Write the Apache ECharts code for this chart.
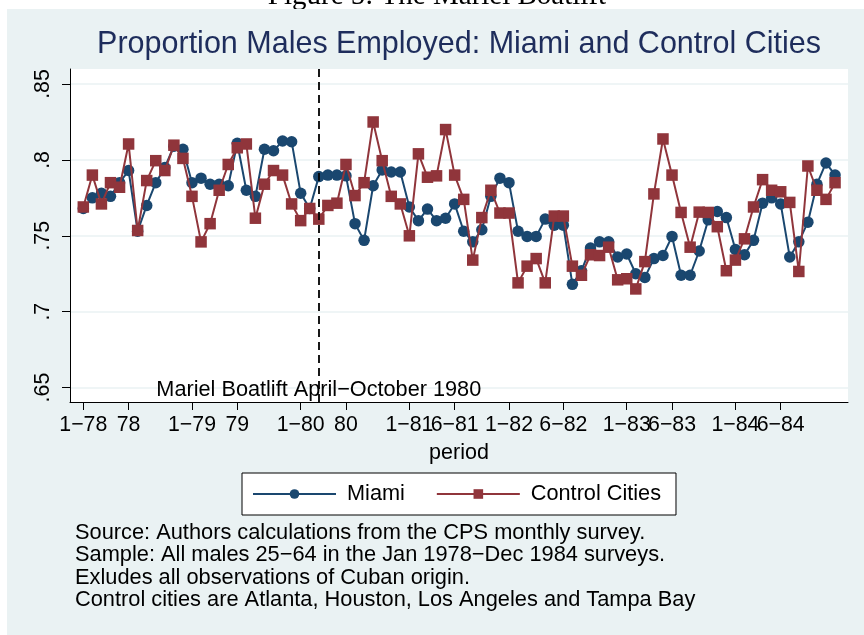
<!DOCTYPE html>
<html><head><meta charset="utf-8">
<script src="https://cdn.jsdelivr.net/npm/echarts@6/dist/echarts.min.js"></script>
<style>html,body{margin:0;padding:0;background:#fff}#c{width:864px;height:635px}</style>
</head><body><div id="c"></div>
<script>
// Monthly observations Jan 1978 - Dec 1984 (index 0..83)
const miami = [
  0.768,0.775,0.778,0.776,0.785,0.793,0.753,0.770,0.785,0.795,0.809,0.807,
  0.785,0.788,0.784,0.784,0.783,0.811,0.780,0.776,0.807,0.806,0.8125,0.812,
  0.778,0.768,0.789,0.790,0.790,0.7895,0.758,0.747,0.783,0.7934,0.792,0.792,
  0.769,0.760,0.7676,0.760,0.7616,0.771,0.753,0.746,0.754,0.776,0.788,0.785,
  0.753,0.7496,0.7496,0.761,0.757,0.757,0.718,0.727,0.742,0.746,0.746,0.736,
  0.738,0.725,0.7226,0.735,0.737,0.7496,0.724,0.724,0.740,0.7605,0.766,0.762,
  0.741,0.7375,0.747,0.7715,0.775,0.771,0.736,0.746,0.759,0.784,0.798,0.790
];
const control = [
  0.769,0.790,0.771,0.785,0.782,0.8105,0.7535,0.7864,0.7995,0.793,0.8097,0.801,
  0.776,0.746,0.758,0.780,0.797,0.808,0.8105,0.7616,0.784,0.793,0.790,0.771,
  0.760,0.768,0.761,0.770,0.7715,0.797,0.7765,0.785,0.825,0.7995,0.776,0.771,
  0.750,0.804,0.7886,0.7895,0.820,0.790,0.774,0.734,0.762,0.780,0.765,0.765,
  0.719,0.730,0.735,0.719,0.763,0.763,0.730,0.724,0.7375,0.737,0.7425,0.721,
  0.7217,0.715,0.733,0.7776,0.8138,0.790,0.7654,0.7425,0.7656,0.7654,0.756,0.727,
  0.734,0.748,0.769,0.787,0.780,0.779,0.772,0.7265,0.796,0.780,0.774,0.785
];
const tickPositions = [0,5,12,17,24,29,36,41,47,53,60,65,72,77];
const tickLabels = ['1\u221278','78','1\u221279','79','1\u221280','80','1\u221281','6\u221281','1\u221282','6\u221282','1\u221283','6\u221283','1\u221284','6\u221284'];
const yTicks = [0.65,0.7,0.75,0.8,0.85];
const yTickLabels = ['.65','.7','.75','.8','.85'];
const boatliftPeriod = 26;
const annotText = 'Mariel Boatlift April\u2212October 1980';
const titleText = 'Proportion Males Employed: Miami and Control Cities';
const captionText = 'Figure 5: The Mariel Boatlift';
const notes = [
  'Source: Authors calculations from the CPS monthly survey.',
  'Sample: All males 25\u221264 in the Jan 1978\u2212Dec 1984 surveys.',
  'Exludes all observations of Cuban origin.',
  'Control cities are Atlanta, Houston, Los Angeles and Tampa Bay'
];

const FONT = '"Liberation Sans", Arial, Helvetica, sans-serif';
const BLUE = '#1a476f', RED = '#90353b', BG = '#eaf2f3';
const X_MIN = -1.47, X_MAX = 84.43;
const chart = echarts.init(document.getElementById('c'), null, {renderer:'canvas'});
const toPairs = arr => arr.map((v,i)=>[i,v]);
const noteY = [532.5, 555, 577.5, 600];
// blank guard labels at both ends keep the end-label overlap check from hiding real labels
const xLabelValues = [X_MIN].concat(tickPositions, [X_MAX]);

chart.setOption({
  animation:false,
  backgroundColor:'#fff',
  graphic:[
    {type:'text', z:-20, x:437, y:11, style:{text:captionText, font:'29px "Liberation Serif", "DejaVu Serif", serif', fill:'#000', align:'center', verticalAlign:'bottom'}},
    {type:'rect', z:-10, shape:{x:7,y:9,width:857,height:626}, style:{fill:BG}},
    {type:'text', x:459, y:45, style:{text:titleText, font:'30.5px '+FONT, fill:'#1e2d5c', align:'center', verticalAlign:'middle'}},
  ].concat(notes.map((t,k)=>({type:'text', x:75, y:noteY[k], style:{text:t, font:'21.8px '+FONT, fill:'#000', align:'left', verticalAlign:'middle'}}))),
  grid:{left:70, top:69, right:16, bottom:233, show:true, backgroundColor:'#fff', borderWidth:0, containLabel:false},
  legend:{
    left:242, top:473, padding:[10,15,10,10], itemGap:31, itemWidth:83, itemHeight:12,
    borderColor:'#000', borderWidth:1, backgroundColor:'#fff', borderRadius:0,
    textStyle:{fontSize:21.7, fontFamily:FONT, color:'#000', padding:[0,0,0,6]},
    data:['Miami','Control Cities']
  },
  xAxis:{
    type:'value', min:X_MIN, max:X_MAX,
    name:'period', nameLocation:'middle', nameGap:40,
    nameTextStyle:{fontSize:21.5, fontFamily:FONT, color:'#000'},
    axisLine:{show:true, onZero:false, lineStyle:{color:'#000', width:1}},
    axisTick:{show:true, length:8, customValues:tickPositions, lineStyle:{color:'#000'}},
    axisLabel:{customValues:xLabelValues, margin:13, fontSize:21.3, fontFamily:FONT, color:'#000',
      hideOverlap:false,
      formatter:v=>{const k=tickPositions.findIndex(t=>Math.abs(t-v)<1e-6); return k>=0?tickLabels[k]:'';}},
    splitLine:{show:false}
  },
  yAxis:{
    type:'value', min:0.6405, max:0.8599,
    axisLine:{show:true, onZero:false, lineStyle:{color:'#000', width:1}},
    axisTick:{show:true, length:8, customValues:yTicks, lineStyle:{color:'#000'}},
    axisLabel:{customValues:yTicks, rotate:90, margin:16, fontSize:21.3, fontFamily:FONT, color:'#000',
      formatter:v=>{let k=-1; yTicks.forEach((t,i)=>{if(Math.abs(t-v)<1e-6)k=i;}); return k>=0?yTickLabels[k]:'';}},
    splitLine:{show:true, lineStyle:{color:BG, width:1.5}}
  },
  series:[
    {name:'Miami', type:'line', data:toPairs(miami), symbol:'circle', symbolSize:11.5,
      lineStyle:{color:BLUE, width:2}, itemStyle:{color:BLUE}, z:3,
      markLine:{silent:true, symbol:'none', data:[{xAxis:boatliftPeriod}],
        lineStyle:{color:'#000', type:[8,5], width:1.8}, label:{show:false}},
      markPoint:{silent:true, symbol:'rect', symbolSize:1, itemStyle:{color:'rgba(0,0,0,0)'},
        label:{show:true, position:'inside', formatter:annotText, fontSize:21.7, fontFamily:FONT, color:'#000'},
        data:[{coord:[boatliftPeriod, 0.6487]}]}
    },
    {name:'Control Cities', type:'line', data:toPairs(control), symbol:'rect', symbolSize:11.5,
      lineStyle:{color:RED, width:2}, itemStyle:{color:RED}, z:4}
  ]
});
</script></body></html>
